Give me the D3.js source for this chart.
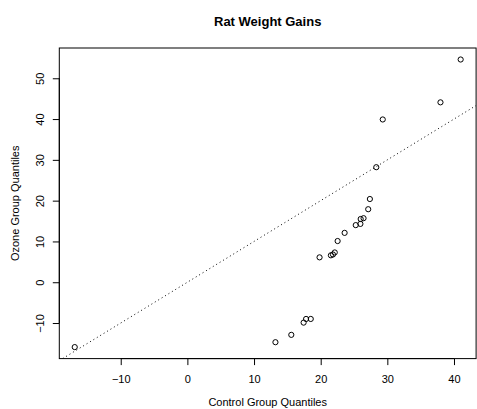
<!DOCTYPE html>
<html>
<head>
<meta charset="utf-8">
<script src="https://cdn.jsdelivr.net/npm/d3@7"></script>
<style>
  html, body { margin: 0; padding: 0; background: #fff; }
  svg { display: block; }
  text { font-family: "Liberation Sans", Arial, sans-serif; fill: #000; }
</style>
</head>
<body>
<svg id="chart" width="477" height="409"></svg>
<script>
// Data: quantile pairs (control group vs ozone group)
const controlQuantiles = [-16.9, 13.21, 15.59, 17.44, 17.81, 18.51, 19.83, 21.53, 21.84, 22.11, 22.54,
                          23.59, 25.26, 25.96, 26.0, 26.43, 27.13, 27.38, 28.34, 29.31, 37.97, 41.0];
const ozoneQuantiles   = [-15.9, -14.7, -12.9, -9.9, -9.0, -9.0, 6.1, 6.6, 6.8, 7.3, 10.1,
                          12.1, 14.0, 14.3, 15.5, 15.7, 17.9, 20.4, 28.2, 39.9, 44.1, 54.6];
const xTicks = [-10, 0, 10, 20, 30, 40];
const yTicks = [-10, 0, 10, 20, 30, 40, 50];
const xTickLabels = ["\u221210", "0", "10", "20", "30", "40"];
const yTickLabels = ["\u221210", "0", "10", "20", "30", "40", "50"];
const titleText = "Rat Weight Gains";
const xLabelText = "Control Group Quantiles";
const yLabelText = "Ozone Group Quantiles";

// Layout
const L = 59.3, R = 476.1, T = 48.0, B = 358.6;

const svg = d3.select("#chart");

// R-style 4% extension of data range
function ext(arr) {
  const mn = d3.min(arr), mx = d3.max(arr), d = (mx - mn) * 0.04;
  return [mn - d, mx + d];
}
const x = d3.scaleLinear().domain(ext(controlQuantiles)).range([L, R]);
const y = d3.scaleLinear().domain(ext(ozoneQuantiles)).range([B, T]);

// clip
svg.append("defs").append("clipPath").attr("id", "clip")
  .append("rect").attr("x", L).attr("y", T).attr("width", R - L).attr("height", B - T);

// box
svg.append("rect")
  .attr("x", L).attr("y", T).attr("width", R - L).attr("height", B - T)
  .attr("fill", "none").attr("stroke", "#000").attr("stroke-width", 1);

// x axis
const xAxis = d3.axisBottom(x).tickValues(xTicks).tickSize(6.5).tickPadding(10)
  .tickFormat((d, i) => xTickLabels[i]);
const gx = svg.append("g").attr("transform", `translate(0,${B})`).call(xAxis);
gx.select(".domain").remove();
gx.append("line").attr("x1", x(xTicks[0])).attr("x2", x(xTicks[xTicks.length - 1]))
  .attr("y1", 0).attr("y2", 0).attr("stroke", "#000");
gx.selectAll(".tick line").attr("stroke", "#000");
gx.selectAll(".tick text").attr("font-size", 11).attr("font-family", "Liberation Sans, Arial, sans-serif")
  .attr("fill", "#000").attr("dy", null).attr("y", 24.4);

// y axis
const yAxis = d3.axisLeft(y).tickValues(yTicks).tickSize(6.5)
  .tickFormat((d, i) => yTickLabels[i]);
const gy = svg.append("g").attr("transform", `translate(${L},0)`).call(yAxis);
gy.select(".domain").remove();
gy.append("line").attr("y1", y(yTicks[0])).attr("y2", y(yTicks[yTicks.length - 1]))
  .attr("x1", 0).attr("x2", 0).attr("stroke", "#000");
gy.selectAll(".tick line").attr("stroke", "#000");
gy.selectAll(".tick text")
  .attr("font-size", 11).attr("font-family", "Liberation Sans, Arial, sans-serif").attr("fill", "#000")
  .attr("x", null).attr("dy", null).attr("y", null)
  .attr("text-anchor", "middle")
  .attr("transform", `translate(${44 - L},0) rotate(-90)`);

// reference line y = x
const lineDom = x.domain();
svg.append("line")
  .attr("clip-path", "url(#clip)")
  .attr("x1", x(lineDom[0])).attr("y1", y(lineDom[0]))
  .attr("x2", x(lineDom[1])).attr("y2", y(lineDom[1]))
  .attr("stroke", "#000").attr("stroke-width", 1).attr("stroke-dasharray", "1,3");

// points
svg.append("g").selectAll("circle")
  .data(controlQuantiles.map((c, i) => [c, ozoneQuantiles[i]]))
  .join("circle")
  .attr("cx", d => x(d[0])).attr("cy", d => y(d[1]))
  .attr("r", 2.6).attr("fill", "none").attr("stroke", "#000").attr("stroke-width", 1);

// title
svg.append("text").attr("x", (L + R) / 2).attr("y", 25.7)
  .attr("text-anchor", "middle").attr("font-size", 13).attr("font-weight", "bold")
  .text(titleText);

// x label
svg.append("text").attr("x", (L + R) / 2).attr("y", 406.3)
  .attr("text-anchor", "middle").attr("font-size", 11).text(xLabelText);

// y label
svg.append("text")
  .attr("transform", `translate(18.7,${(T + B) / 2}) rotate(-90)`)
  .attr("text-anchor", "middle").attr("font-size", 11).text(yLabelText);
</script>
</body>
</html>
